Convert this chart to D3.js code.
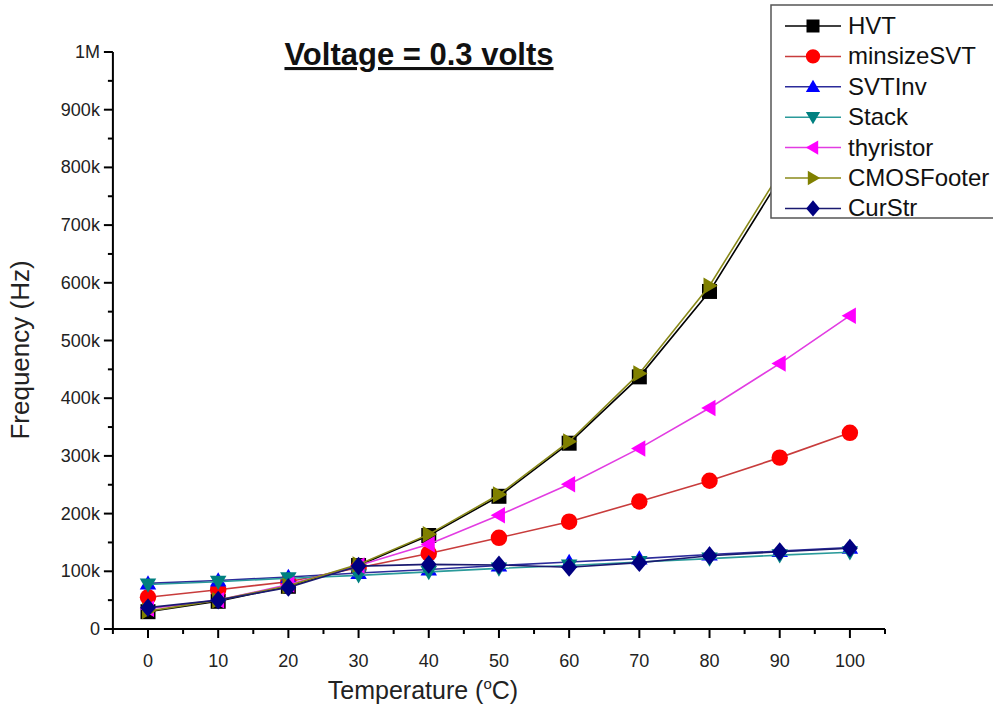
<!DOCTYPE html>
<html>
<head>
<meta charset="utf-8">
<script src="https://cdn.jsdelivr.net/npm/d3@7"></script>
<style>
  html, body { margin: 0; padding: 0; background: #fff; }
  svg { display: block; font-family: "Liberation Sans", Arial, sans-serif; }
</style>
</head>
<body>
<svg id="chart" width="993" height="711"></svg>
<script>
// Temperature sweep (°C)
const temperatures = [0, 10, 20, 30, 40, 50, 60, 70, 80, 90, 100];

// Oscillation frequency (Hz) for each cell type at 0.3 V
const hvt        = [30000, 48000, 74000, 110000, 162000, 230000, 322000, 437000, 585000, 780000, 1040000];
const minsizeSVT = [55000, 68000, 82000, 106000, 131000, 158000, 186000, 221000, 257000, 297000, 340000];
const svtInv     = [79000, 84000, 90000, 97000, 103000, 110000, 116000, 122000, 129000, 135000, 141000];
const stack      = [77000, 82000, 88000, 93000, 99000, 105000, 110000, 116000, 122000, 128000, 133000];
const thyristor  = [35000, 50000, 77000, 110000, 147000, 197000, 251000, 313000, 383000, 460000, 543000];
const cmosFooter = [31000, 50000, 75000, 112000, 164000, 233000, 325000, 443000, 595000, 790000, 1050000];
const curStr     = [37000, 50000, 72000, 109000, 112000, 111000, 107000, 115000, 127000, 134000, 140000];

const seriesNames  = ["HVT", "minsizeSVT", "SVTInv", "Stack", "thyristor", "CMOSFooter", "CurStr"];
const seriesValues = [hvt, minsizeSVT, svtInv, stack, thyristor, cmosFooter, curStr];
const markerColors = ["#000000", "#ff0000", "#0000ff", "#008080", "#ff00ff", "#808000", "#000080"];
const lineColors   = ["#000000", "#c83c3c", "#2b2b9a", "#2a9a9a", "#e23ce2", "#8a8a1a", "#1a1a70"];
const markerShapes = ["square", "circle", "up", "down", "left", "right", "diamond"];

const xTicks = [0, 10, 20, 30, 40, 50, 60, 70, 80, 90, 100];
const yTicks = [0, 100000, 200000, 300000, 400000, 500000, 600000, 700000, 800000, 900000, 1000000];
const yTickLabels = ["0", "100k", "200k", "300k", "400k", "500k", "600k", "700k", "800k", "900k", "1M"];

const svg = d3.select("#chart");

const x = d3.scaleLinear().domain([-5, 105]).range([112.9, 885]);
const y = d3.scaleLinear().domain([0, 1000000]).range([629, 52]);

// Marker path generator
function markerPath(shape, s) {
  const h = s / 2;
  switch (shape) {
    case "square":  return `M${-h},${-h}H${h}V${h}H${-h}Z`;
    case "circle":  return d3.symbol(d3.symbolCircle, Math.PI * h * h * 1.2)();
    case "up":      return `M0,${-h * 1.1}L${h * 1.1},${h * 0.8}L${-h * 1.1},${h * 0.8}Z`;
    case "down":    return `M0,${h * 1.1}L${h * 1.1},${-h * 0.8}L${-h * 1.1},${-h * 0.8}Z`;
    case "left":    return `M${-h * 1.1},0L${h * 0.8},${-h * 1.1}L${h * 0.8},${h * 1.1}Z`;
    case "right":   return `M${h * 1.1},0L${-h * 0.8},${-h * 1.1}L${-h * 0.8},${h * 1.1}Z`;
    case "diamond": return `M0,${-h * 1.25}L${h * 1.05},0L0,${h * 1.25}L${-h * 1.05},0Z`;
  }
}

// Axes
const xMinor = d3.range(-5, 106, 10);
const yMinor = d3.range(50000, 1000000, 100000);

const gx = svg.append("g").attr("transform", `translate(0,629)`);
gx.append("line").attr("x1", x(-5)).attr("x2", x(105)).attr("stroke", "#000").attr("stroke-width", 2);
gx.selectAll(".maj").data(xTicks).join("line")
  .attr("x1", d => x(d)).attr("x2", d => x(d)).attr("y1", 0).attr("y2", 9)
  .attr("stroke", "#000").attr("stroke-width", 2);
gx.selectAll(".min").data(xMinor).join("line").attr("class", "min")
  .attr("x1", d => x(d)).attr("x2", d => x(d)).attr("y1", 0).attr("y2", 5)
  .attr("stroke", "#000").attr("stroke-width", 2);
gx.selectAll("text").data(xTicks).join("text")
  .attr("x", d => x(d)).attr("y", 38).attr("text-anchor", "middle")
  .attr("font-size", 18).attr("fill", "#222").text(d => d);

const gy = svg.append("g").attr("transform", `translate(${x(-5)},0)`);
gy.append("line").attr("y1", y(0)).attr("y2", y(1000000)).attr("stroke", "#000").attr("stroke-width", 2);
gy.selectAll(".maj").data(yTicks).join("line").attr("class", "maj")
  .attr("x1", 0).attr("x2", -9).attr("y1", d => y(d)).attr("y2", d => y(d))
  .attr("stroke", "#000").attr("stroke-width", 2);
gy.selectAll(".min").data(yMinor).join("line").attr("class", "min")
  .attr("x1", 0).attr("x2", -5).attr("y1", d => y(d)).attr("y2", d => y(d))
  .attr("stroke", "#000").attr("stroke-width", 2);
gy.selectAll("text").data(yTicks).join("text")
  .attr("x", -13).attr("y", d => y(d) + 6).attr("text-anchor", "end")
  .attr("font-size", 18).attr("fill", "#222").text((d, i) => yTickLabels[i]);

// Axis titles
svg.append("text").attr("transform", "translate(29,350) rotate(-90)")
  .attr("text-anchor", "middle").attr("font-size", 26).attr("fill", "#222")
  .text("Frequency (Hz)");

const xt = svg.append("text").attr("x", 423).attr("y", 699)
  .attr("text-anchor", "middle").attr("font-size", 25).attr("fill", "#222");
xt.append("tspan").text("Temperature (");
xt.append("tspan").attr("font-size", 15).attr("dy", -10).text("o");
xt.append("tspan").attr("dy", 10).text("C)");

// Title
svg.append("text").attr("x", 419).attr("y", 65).attr("text-anchor", "middle")
  .attr("font-size", 31).attr("font-weight", "bold").attr("fill", "#111")
  .attr("text-decoration", "underline").text("Voltage = 0.3 volts");

// Series
const line = d3.line().x((d, i) => x(temperatures[i])).y(d => y(d));
seriesValues.forEach((vals, k) => {
  const g = svg.append("g");
  g.append("path").datum(vals).attr("d", line)
    .attr("fill", "none").attr("stroke", lineColors[k]).attr("stroke-width", 1.6);
  g.selectAll("path.m").data(vals).join("path").attr("class", "m")
    .attr("transform", (d, i) => `translate(${x(temperatures[i])},${y(d)})`)
    .attr("d", markerPath(markerShapes[k], 15))
    .attr("fill", markerColors[k]);
});

// Legend
const lg = svg.append("g").attr("transform", "translate(771,5)");
lg.append("rect").attr("width", 226).attr("height", 213)
  .attr("fill", "#fff").attr("stroke", "#555").attr("stroke-width", 1.5);
seriesNames.forEach((name, k) => {
  const yy = 21 + k * 30.4;
  lg.append("line").attr("x1", 14).attr("x2", 70).attr("y1", yy).attr("y2", yy)
    .attr("stroke", lineColors[k]).attr("stroke-width", 1.5);
  lg.append("path").attr("transform", `translate(42,${yy})`)
    .attr("d", markerPath(markerShapes[k], 13)).attr("fill", markerColors[k]);
  lg.append("text").attr("x", 77).attr("y", yy + 8).attr("font-size", 24)
    .attr("fill", "#111").text(name);
});
</script>
</body>
</html>
